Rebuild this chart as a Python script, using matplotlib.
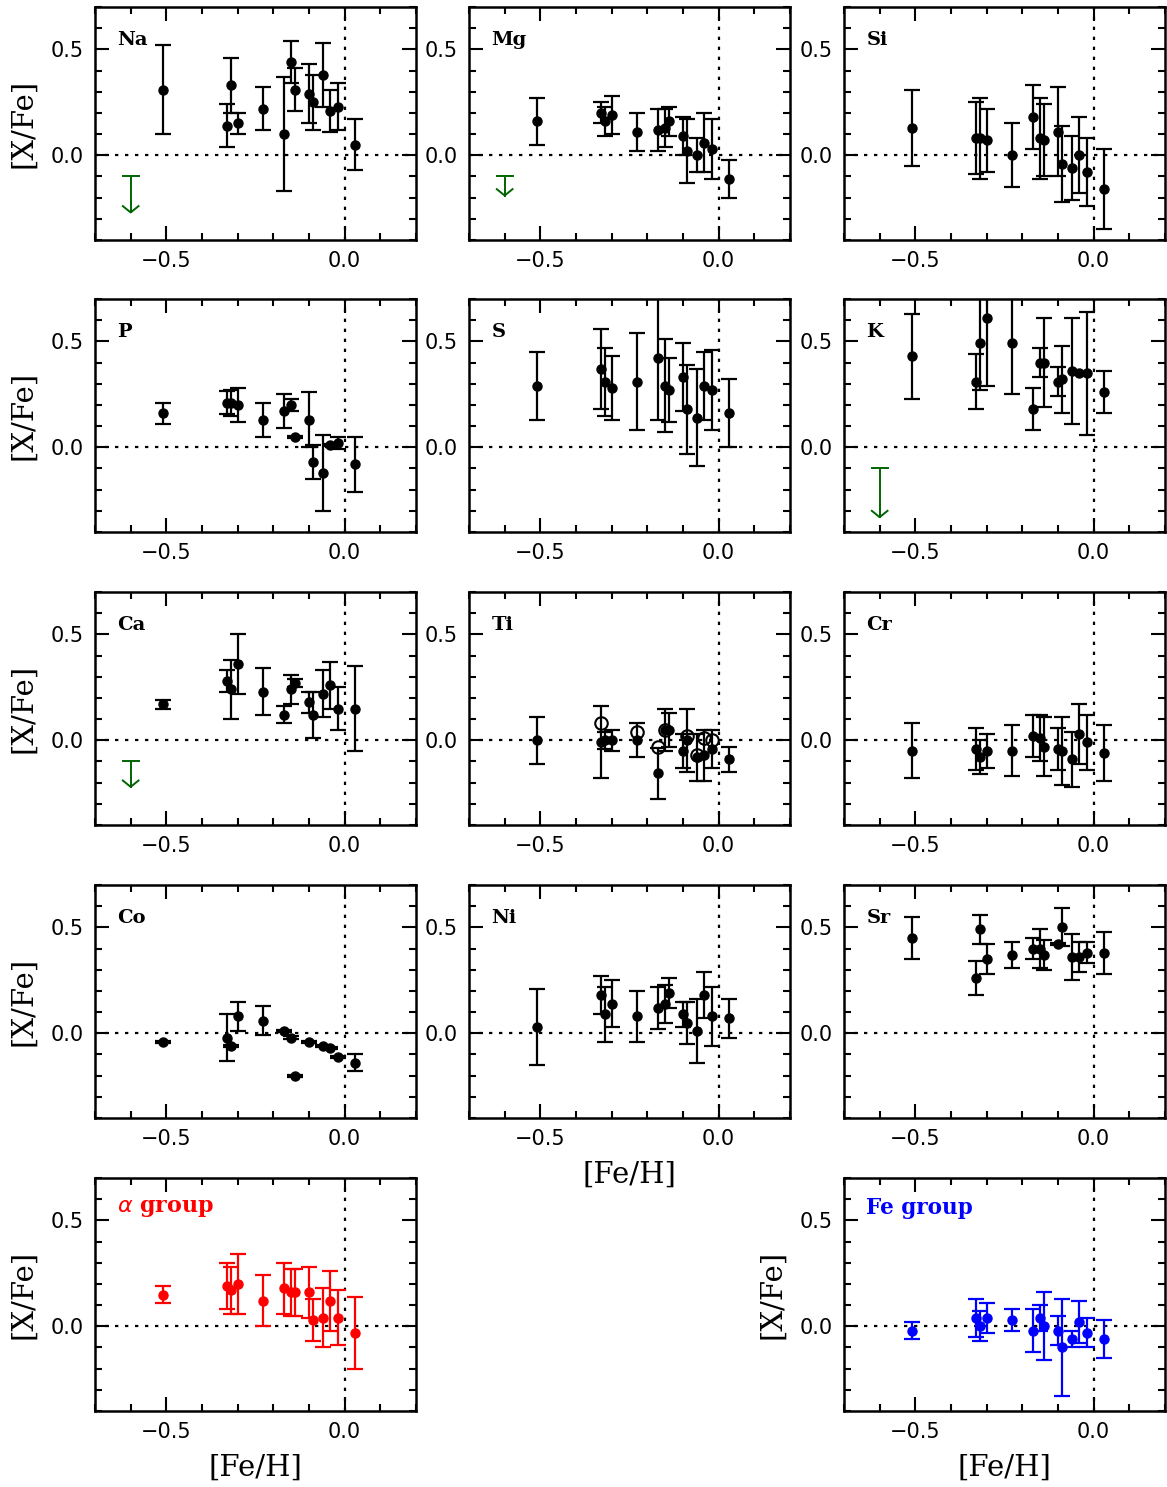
import numpy as np
import matplotlib.pyplot as plt
from matplotlib.ticker import MultipleLocator

# --- Data ---
feh = [-0.51, -0.33, -0.32, -0.30, -0.23, -0.17, -0.15, -0.14,
       -0.10, -0.09, -0.06, -0.04, -0.02, 0.03]

na = [0.31, 0.14, 0.33, 0.15, 0.22, 0.10, 0.44, 0.31, 0.29, 0.25, 0.38, 0.21, 0.23, 0.05]
na_err = [0.21, 0.10, 0.13, 0.05, 0.10, 0.27, 0.10, 0.10, 0.14, 0.13, 0.15, 0.10, 0.11, 0.12]

mg = [0.16, 0.20, 0.16, 0.19, 0.11, 0.12, 0.13, 0.16, 0.09, 0.02, 0.00, 0.06, 0.03, -0.11]
mg_err = [0.11, 0.05, 0.07, 0.09, 0.09, 0.10, 0.09, 0.07, 0.09, 0.15, 0.08, 0.14, 0.14, 0.09]

si = [0.13, 0.08, 0.08, 0.07, 0.00, 0.18, 0.08, 0.07, 0.11, -0.04, -0.06, 0.00, -0.08, -0.16]
si_err = [0.18, 0.17, 0.19, 0.15, 0.15, 0.15, 0.19, 0.17, 0.21, 0.18, 0.15, 0.18, 0.16, 0.19]

p = [0.16, 0.21, 0.21, 0.20, 0.13, 0.17, 0.20, 0.05, 0.13, -0.07, -0.12, 0.01, 0.02, -0.08]
p_err = [0.05, 0.055, 0.06, 0.08, 0.08, 0.08, 0.03, 0.005, 0.13, 0.08, 0.18, 0.005, 0.03, 0.13]

s = [0.29, 0.37, 0.31, 0.28, 0.31, 0.42, 0.29, 0.27, 0.33, 0.18, 0.14, 0.29, 0.27, 0.16]
s_err = [0.16, 0.19, 0.16, 0.15, 0.23, 0.29, 0.22, 0.15, 0.16, 0.21, 0.23, 0.16, 0.19, 0.16]

k = [0.43, 0.31, 0.49, 0.61, 0.49, 0.18, 0.40, 0.40, 0.31, 0.32, 0.36, 0.35, 0.35, 0.26]
k_err = [0.20, 0.13, 0.22, 0.32, 0.24, 0.10, 0.07, 0.21, 0.07, 0.16, 0.25, 0.0, 0.29, 0.10]

ca = [0.17, 0.28, 0.24, 0.36, 0.23, 0.12, 0.24, 0.27, 0.18, 0.12, 0.22, 0.26, 0.15, 0.15]
ca_err = [0.02, 0.05, 0.14, 0.14, 0.11, 0.04, 0.07, 0.02, 0.05, 0.11, 0.11, 0.11, 0.10, 0.20]

ti = [0.00, -0.01, 0.00, 0.00, 0.00, -0.155, 0.05, 0.05, -0.05, 0.00, -0.08, -0.07, -0.04, -0.09]
ti_err = [0.11, 0.17, 0.04, 0.05, 0.08, 0.12, 0.10, 0.08, 0.08, 0.15, 0.11, 0.12, 0.09, 0.06]
ti2 = [np.nan, 0.08, np.nan, np.nan, 0.04, -0.03, 0.05, np.nan,
       np.nan, 0.02, -0.07, 0.01, 0.00, np.nan]

cr = [-0.05, -0.04, -0.08, -0.05, -0.05, 0.02, 0.01, -0.03, -0.04, -0.05, -0.09, 0.03, -0.01, -0.06]
cr_err = [0.13, 0.10, 0.08, 0.08, 0.12, 0.10, 0.11, 0.14, 0.10, 0.16, 0.13, 0.14, 0.13, 0.13]

co = [-0.04, -0.02, -0.06, 0.08, 0.06, 0.01, -0.02, -0.20, -0.04, np.nan, -0.06, -0.07, -0.11, -0.14]
co_err = [0.005, 0.11, 0.005, 0.07, 0.07, 0.005, 0.005, 0.005, 0.005, 0.0, 0.005, 0.005, 0.005, 0.04]

ni = [0.03, 0.18, 0.09, 0.14, 0.08, 0.12, 0.14, 0.19, 0.09, 0.05, 0.01, 0.18, 0.08, 0.07]
ni_err = [0.18, 0.09, 0.13, 0.11, 0.12, 0.10, 0.09, 0.07, 0.06, 0.10, 0.15, 0.11, 0.14, 0.09]

sr = [0.45, 0.26, 0.49, 0.35, 0.37, 0.40, 0.40, 0.37, 0.42, 0.50, 0.36, 0.36, 0.38, 0.38]
sr_err = [0.10, 0.08, 0.07, 0.07, 0.06, 0.05, 0.09, 0.07, 0.005, 0.09, 0.11, 0.07, 0.05, 0.10]

alpha = [0.15, 0.19, 0.17, 0.20, 0.12, 0.18, 0.16, 0.16, 0.16, 0.03, 0.04, 0.12, 0.04, -0.03]
alpha_err = [0.04, 0.11, 0.11, 0.14, 0.12, 0.12, 0.11, 0.11, 0.12, 0.10, 0.14, 0.14, 0.13, 0.17]

fegrp = [-0.02, 0.04, 0.00, 0.04, 0.03, -0.02, 0.04, 0.00, -0.02, -0.10, -0.06, 0.02, -0.03, -0.06]
fegrp_err = [0.04, 0.09, 0.07, 0.07, 0.05, 0.10, 0.06, 0.16, 0.07, 0.23, 0.04, 0.10, 0.07, 0.09]

# green upper-limit arrows: element -> (x, top, tip)
limits = {'Na': (-0.60, -0.10, -0.27), 'Mg': (-0.60, -0.10, -0.19),
          'K': (-0.60, -0.10, -0.33), 'Ca': (-0.60, -0.10, -0.22)}

panels = [('Na', na, na_err), ('Mg', mg, mg_err), ('Si', si, si_err),
          ('P', p, p_err), ('S', s, s_err), ('K', k, k_err),
          ('Ca', ca, ca_err), ('Ti', ti, ti_err), ('Cr', cr, cr_err),
          ('Co', co, co_err), ('Ni', ni, ni_err), ('Sr', sr, sr_err)]

# --- layout (pixels of the 1167x1487 target) ---
W, H = 1167, 1487
col_left = [95, 469, 844]
row_top = [7, 299, 592, 885, 1178]
aw, ah = 321, 233


def fmt(v, _):
    if abs(v) < 1e-9:
        return '0.0'
    return f'{v:.1f}'.replace('-', '\u2212')


def make_ax(fig, row, col):
    l = col_left[col] / W
    b = 1 - (row_top[row] + ah) / H
    ax = fig.add_axes([l, b, aw / W, ah / H])
    ax.set_xlim(-0.7, 0.2)
    ax.set_ylim(-0.4, 0.7)
    ax.xaxis.set_major_locator(MultipleLocator(0.5))
    ax.xaxis.set_minor_locator(MultipleLocator(0.1))
    ax.yaxis.set_major_locator(MultipleLocator(0.5))
    ax.yaxis.set_minor_locator(MultipleLocator(0.1))
    ax.tick_params(which='both', direction='in', top=True, right=True,
                   width=1.5, labelsize=15, pad=8)
    ax.tick_params(which='major', length=10)
    ax.tick_params(which='minor', length=5)
    ax.xaxis.set_major_formatter(plt.FuncFormatter(fmt))
    ax.yaxis.set_major_formatter(plt.FuncFormatter(fmt))
    for sp in ax.spines.values():
        sp.set_linewidth(1.8)
    ax.axhline(0, color='k', ls=(0, (1.5, 3)), lw=1.6, zorder=1)
    ax.axvline(0, color='k', ls=(0, (1.5, 3)), lw=1.6, zorder=1)
    return ax


def draw_limit(ax, x0, top, tip, color='darkgreen'):
    hw, hl = 0.022, 0.03
    ax.plot([x0, x0], [top, tip], color=color, lw=1.4)
    ax.plot([x0 - hw, x0 + hw], [top, top], color=color, lw=1.4)
    ax.plot([x0 - hw, x0, x0 + hw], [tip + hl, tip, tip + hl], color=color, lw=1.4)


fig = plt.figure(figsize=(W / 100, H / 100), dpi=100)
ebkw = dict(fmt='o', ms=6.5, capsize=5.5, elinewidth=1.6, capthick=1.6, zorder=3)
lab = dict(fontsize=21, family='DejaVu Serif')

for i, (name, vals, errs) in enumerate(panels):
    r, c = divmod(i, 3)
    ax = make_ax(fig, r, c)
    ax.errorbar(feh, vals, yerr=errs, color='k', **ebkw)
    if name == 'Ti':
        ax.plot(feh, ti2, 'o', ms=9, mfc='none', mec='k', mew=1.5, zorder=4)
    if name in limits:
        draw_limit(ax, *limits[name])
    ax.text(0.07, 0.86, name, transform=ax.transAxes, fontsize=14,
            fontweight='bold', family='DejaVu Serif', va='center')
    if c == 0:
        ax.set_ylabel('[X/Fe]', labelpad=10, **lab)
    if r == 3 and c == 1:
        ax.set_xlabel('[Fe/H]', labelpad=8, **lab)

# alpha group and Fe group
ax = make_ax(fig, 4, 0)
ax.errorbar(feh, alpha, yerr=alpha_err, color='red', **ebkw)
ax.text(0.07, 0.87, r'$\alpha$ group', transform=ax.transAxes, fontsize=16,
        fontweight='bold', color='red', family='DejaVu Serif', va='center')
ax.set_ylabel('[X/Fe]', labelpad=10, **lab)
ax.set_xlabel('[Fe/H]', labelpad=8, **lab)

ax = make_ax(fig, 4, 2)
ax.errorbar(feh, fegrp, yerr=fegrp_err, color='blue', **ebkw)
ax.text(0.07, 0.87, 'Fe group', transform=ax.transAxes, fontsize=15.5,
        fontweight='bold', color='blue', family='DejaVu Serif', va='center')
ax.set_ylabel('[X/Fe]', labelpad=10, **lab)
ax.set_xlabel('[Fe/H]', labelpad=8, **lab)

fig.savefig('out.png', dpi=100)
